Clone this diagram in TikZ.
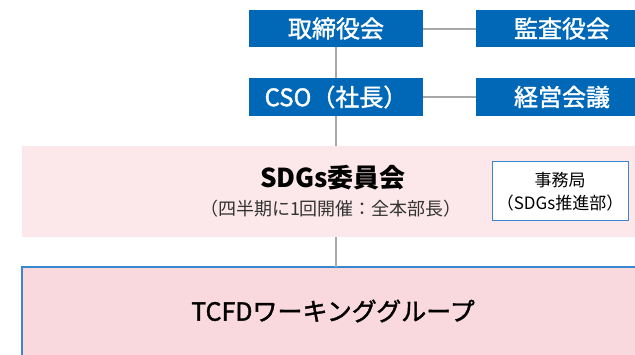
\documentclass[tikz,border=0pt]{standalone}
\usepackage{fontspec}
\setmainfont{Noto Sans CJK JP}
\newfontfamily\jpmed[FakeBold=1.5]{Noto Sans CJK JP}
\definecolor{boxblue}{HTML}{0068B7}
\definecolor{bandpink}{HTML}{FCE8EA}
\definecolor{tcfdpink}{HTML}{F9D8DE}
\definecolor{edgeblue}{HTML}{3B87CF}
\definecolor{linegray}{HTML}{A8A8A8}
\definecolor{subgray}{HTML}{333333}
\tikzset{
  bluebox/.style={rectangle, fill=boxblue, text=white, inner sep=0pt,
    minimum height=37pt, font=\jpmed\fontsize{24}{26}\selectfont},
  conn/.style={draw=linegray, line width=2pt},
  plain/.style={inner sep=0pt, outer sep=0pt},
}
\begin{document}
\begin{tikzpicture}[x=1pt,y=-1pt]
\useasboundingbox (0,0) rectangle (635,354);
% blue boxes
\node[bluebox, minimum width=174pt] (board) at (336,28.5) {取締役会};
\node[bluebox, minimum width=159pt] (audit) at (555.5,28.5) {\hspace*{13pt}監査役会};
\node[bluebox, minimum width=174pt, minimum height=38pt] (cso) at (336,97) {CSO（社長）};
\node[bluebox, minimum width=159pt, minimum height=38pt] (mgmt) at (555.5,97) {\hspace*{13pt}経営会議};
% SDGs band
\node[plain, fill=bandpink, minimum width=613pt, minimum height=91pt] (band) at (328.5,191.5) {};
\node[plain, font=\fontsize{26}{28}\selectfont\bfseries] (sdgs) at (333,178) {SDGs委員会};
\node[plain, text=subgray, font=\fontsize{18}{20}\selectfont] (sdgsnote) at (331,209) {（四半期に1回開催：全本部長）};
\node[plain, fill=white, draw=edgeblue, line width=1pt, minimum width=136pt, minimum height=59pt] (office) at (560,190.5) {};
\node[plain, font=\fontsize{17}{19}\selectfont] (officet) at (560,180) {事務局};
\node[plain, font=\fontsize{17}{19}\selectfont] (offices) at (560,203) {（SDGs推進部）};
% TCFD box
\node[plain, fill=tcfdpink, draw=edgeblue, line width=1.3pt, minimum width=616pt, minimum height=92pt] (tcfd) at (330,313) {};
\node[plain, font=\jpmed\fontsize{25}{27}\selectfont] (tcfdt) at (333,311) {TCFDワーキンググループ};
% connectors
\draw[conn] (board.east) -- (audit.west);
\draw[conn] (cso.east) -- (mgmt.west);
\draw[conn] (board.south) -- (cso.north);
\draw[conn] (cso.south) -- (cso.south |- band.north);
\draw[conn] (cso.south |- band.south) -- (cso.south |- tcfd.north);
\end{tikzpicture}
\end{document}
